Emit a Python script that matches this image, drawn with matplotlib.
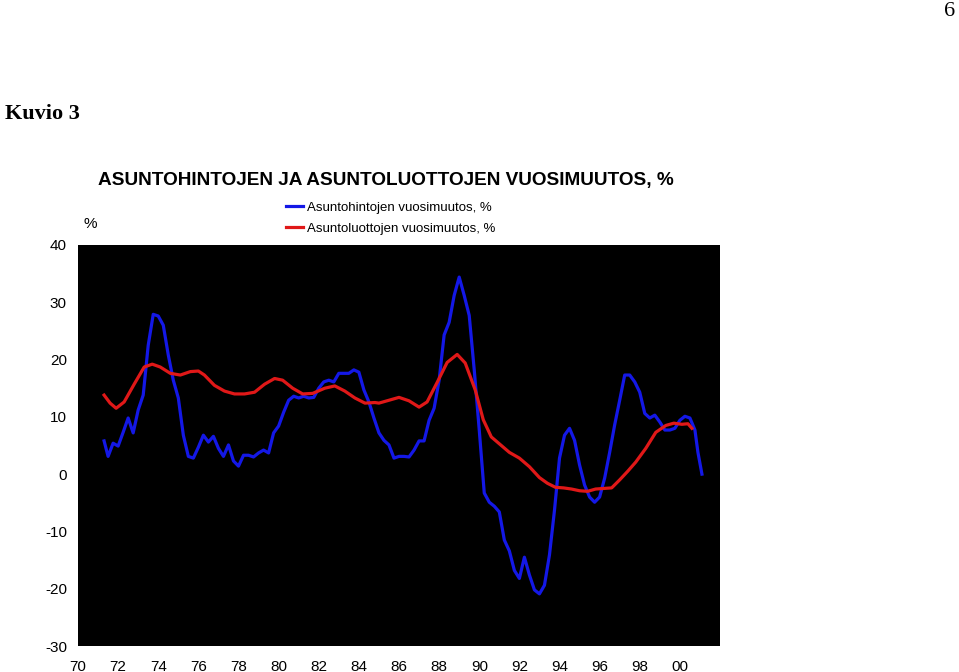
import matplotlib.pyplot as plt

# Asuntohintojen vuosimuutos (blue)
price_years = [1971.3, 1971.5, 1971.75, 1972.0, 1972.25, 1972.5, 1972.75, 1973.0, 1973.25, 1973.5,
               1973.75, 1974.0, 1974.25, 1974.5, 1974.75, 1975.0, 1975.25, 1975.5, 1975.75, 1976.0,
               1976.25, 1976.5, 1976.75, 1977.0, 1977.25, 1977.5, 1977.75, 1978.0, 1978.25, 1978.5,
               1978.75, 1979.0, 1979.25, 1979.5, 1979.75, 1980.0, 1980.25, 1980.5, 1980.75, 1981.0,
               1981.25, 1981.5, 1981.75, 1982.0, 1982.25, 1982.5, 1982.75, 1983.0, 1983.25, 1983.5,
               1983.75, 1984.0, 1984.25, 1984.5, 1984.75, 1985.0, 1985.25, 1985.5, 1985.75, 1986.0,
               1986.25, 1986.5, 1986.75, 1987.0, 1987.25, 1987.5, 1987.75, 1988.0, 1988.25, 1988.5,
               1988.75, 1989.0, 1989.25, 1989.5, 1989.75, 1990.0, 1990.25, 1990.5, 1990.75, 1991.0,
               1991.25, 1991.5, 1991.75, 1992.0, 1992.25, 1992.5, 1992.75, 1993.0, 1993.25, 1993.5,
               1993.75, 1994.0, 1994.25, 1994.5, 1994.75, 1995.0, 1995.25, 1995.5, 1995.75, 1996.0,
               1996.25, 1996.5, 1996.75, 1997.0, 1997.25, 1997.5, 1997.75, 1998.0, 1998.25, 1998.5,
               1998.75, 1999.0, 1999.25, 1999.5, 1999.75, 2000.0, 2000.25, 2000.5, 2000.75, 2000.9,
               2001.1]
price_change = [5.8, 3.1, 5.4, 4.9, 7.3, 9.8, 7.2, 11.2, 13.8, 22.5,
                27.9, 27.6, 26.0, 20.8, 16.4, 13.3, 6.8, 3.1, 2.8, 4.7,
                6.8, 5.6, 6.6, 4.5, 3.1, 5.1, 2.3, 1.4, 3.3, 3.3,
                3.0, 3.7, 4.2, 3.7, 7.2, 8.4, 10.8, 12.9, 13.6, 13.3,
                13.6, 13.3, 13.4, 15.0, 16.1, 16.4, 16.1, 17.6, 17.6, 17.6,
                18.2, 17.8, 14.7, 12.6, 9.8, 7.2, 5.9, 5.1, 2.8, 3.1,
                3.1, 3.0, 4.2, 5.8, 5.8, 9.4, 11.5, 16.4, 24.3, 26.5,
                31.2, 34.4, 31.2, 27.7, 18.2, 7.7, -3.3, -4.9, -5.6, -6.6,
                -11.5, -13.4, -16.8, -18.2, -14.5, -17.6, -20.2, -20.9, -19.4, -14.1,
                -6.3, 2.8, 6.8, 8.0, 5.9, 1.6, -1.9, -4.0, -4.9, -4.0,
                -0.7, 3.8, 8.6, 12.9, 17.3, 17.3, 16.1, 14.3, 10.6, 9.8,
                10.3, 9.1, 7.7, 7.7, 8.0, 9.4, 10.1, 9.8, 7.7, 3.8,
                0.0]

# Asuntoluottojen vuosimuutos (red)
loan_years = [1971.3, 1971.6, 1971.9, 1972.3, 1972.8, 1973.3, 1973.7, 1974.1, 1974.6, 1975.1,
              1975.6, 1976.0, 1976.3, 1976.8, 1977.3, 1977.8, 1978.3, 1978.8, 1979.3, 1979.8,
              1980.2, 1980.7, 1981.2, 1981.7, 1982.3, 1982.8, 1983.3, 1983.8, 1984.3, 1984.8,
              1985.0, 1985.5, 1986.0, 1986.5, 1987.0, 1987.4, 1987.9, 1988.4, 1988.9, 1989.3,
              1989.8, 1990.2, 1990.6, 1991.0, 1991.5, 1992.0, 1992.5, 1993.0, 1993.4, 1993.8,
              1994.2, 1994.6, 1995.0, 1995.4, 1995.8, 1996.2, 1996.6, 1997.0, 1997.4, 1997.8,
              1998.3, 1998.8, 1999.3, 1999.7, 2000.1, 2000.4, 2000.6]
loan_change = [13.8, 12.4, 11.5, 12.6, 15.7, 18.7, 19.2, 18.7, 17.6, 17.3,
               17.9, 18.0, 17.3, 15.5, 14.5, 14.0, 14.0, 14.3, 15.7, 16.7,
               16.4, 15.0, 14.0, 14.1, 15.0, 15.4, 14.5, 13.3, 12.4, 12.5,
               12.4, 12.9, 13.4, 12.8, 11.7, 12.6, 16.0, 19.5, 20.9, 19.4,
               14.7, 9.5, 6.5, 5.3, 3.8, 2.8, 1.3, -0.6, -1.6, -2.3,
               -2.4, -2.6, -2.9, -3.0, -2.6, -2.5, -2.4, -1.0, 0.5, 2.1,
               4.5, 7.3, 8.5, 8.9, 8.7, 8.8, 8.0]

x_ticks = [1970, 1972, 1974, 1976, 1978, 1980, 1982, 1984, 1986, 1988, 1990, 1992, 1994, 1996, 1998, 2000]
x_labels = ['70', '72', '74', '76', '78', '80', '82', '84', '86', '88', '90', '92', '94', '96', '98', '00']
y_ticks = [-30, -20, -10, 0, 10, 20, 30, 40]
y_labels = ['-30', '-20', '-10', '0', '10', '20', '30', '40']

plt.rcParams['font.family'] = ['Liberation Sans', 'DejaVu Sans']

fig = plt.figure(figsize=(9.59, 6.72), dpi=100)
ax = fig.add_axes([78 / 959, 1 - 646 / 672, (720 - 78) / 959, (646 - 245) / 672])
ax.set_facecolor('black')

ax.plot(price_years, price_change, color='#1418E6', linewidth=2.3,
        label='Asuntohintojen vuosimuutos, %')
ax.plot(loan_years, loan_change, color='#E01818', linewidth=2.3,
        label='Asuntoluottojen vuosimuutos, %')

ax.set_xlim(1970, 2002)
ax.set_ylim(-30, 40)
ax.set_xticks(x_ticks)
ax.set_xticklabels(x_labels, fontsize=11)
ax.set_yticks(y_ticks)
ax.set_yticklabels(y_labels, fontsize=11)
ax.tick_params(length=0, pad=10)
ax.tick_params(axis='y', pad=8)
for s in ax.spines.values():
    s.set_visible(False)

ax.legend(loc='upper left', bbox_to_anchor=(279 / 959, 1 - 195 / 672),
          bbox_transform=fig.transFigure, frameon=False, fontsize=9.5,
          handlelength=1.3, handletextpad=0.3, labelspacing=0.65, borderpad=0)

fig.text(98 / 959, 1 - 181 / 672, 'ASUNTOHINTOJEN JA ASUNTOLUOTTOJEN VUOSIMUUTOS, %',
         fontsize=13.7, fontweight='bold', va='center', ha='left')
fig.text(90 / 959, 1 - 224 / 672, '%', fontsize=11, va='center', ha='center')
fig.text(5 / 959, 1 - 114 / 672, 'Kuvio 3', fontsize=16, fontweight='bold',
         family='Liberation Serif', va='center', ha='left')
fig.text(950 / 959, 1 - 12 / 672, '6', fontsize=16, family='Liberation Serif',
         va='center', ha='center')

fig.savefig('out.png', dpi=100, facecolor='white')
